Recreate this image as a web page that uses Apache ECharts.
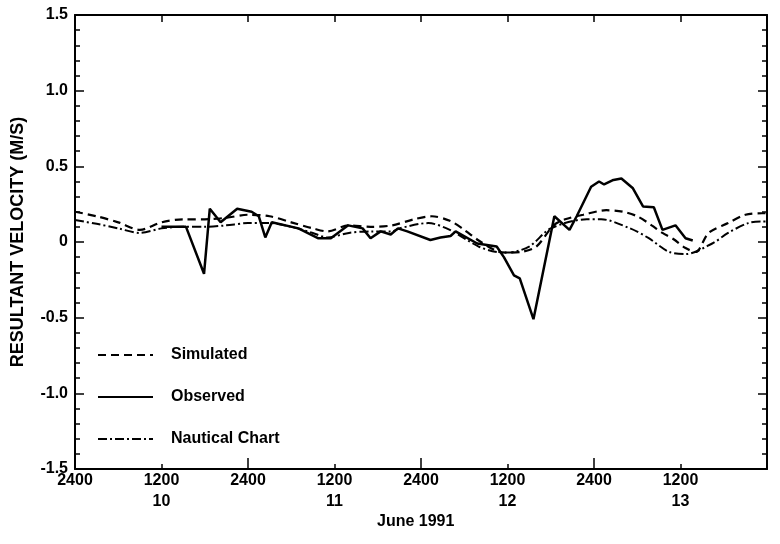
<!DOCTYPE html>
<html><head><meta charset="utf-8">
<script src="https://cdn.jsdelivr.net/npm/echarts@6/dist/echarts.min.js"></script>
<style>html,body{margin:0;padding:0;background:#fff}#c{width:780px;height:544px}</style>
</head><body><div id="c"></div>
<script>
// hours from June 10, 00:00 (2400 of June 9)
const simulatedHours = [0,3,6,9,12,15,18,21,24,27,30,33,35,38,41,44,47,49.5,52,54,56,58.5,60,62,64,66.4,68,70.5,73.7,76,78,80,81.5,83,84.7,86.1,87.9,90.6,93,95.3,96];
const simulatedValues = [0.20,0.17,0.13,0.08,0.13,0.15,0.15,0.16,0.18,0.17,0.13,0.09,0.07,0.11,0.10,0.11,0.15,0.17,0.14,0.08,0.01,-0.06,-0.07,-0.065,-0.03,0.11,0.15,0.18,0.21,0.20,0.17,0.11,0.06,0.02,-0.04,-0.066,0.06,0.125,0.18,0.19,0.19];

const observedHours = [12,15.4,17.9,18.7,20.2,22.5,24.5,25.5,26.4,27.3,31,33.7,35.5,37.9,39.9,41,42.4,43.8,44.8,46.1,49.3,50.7,52.1,52.8,55.8,58.5,59.5,60.9,61.7,63.6,66.5,68.6,69.6,71.6,72.7,73.4,74.7,75.8,77.4,78.8,80.3,81.5,83.3,84.7,85.7];
const observedValues = [0.10,0.10,-0.21,0.22,0.13,0.22,0.20,0.17,0.03,0.13,0.09,0.025,0.025,0.11,0.09,0.025,0.07,0.05,0.09,0.07,0.013,0.03,0.04,0.07,-0.01,-0.03,-0.10,-0.22,-0.24,-0.51,0.17,0.08,0.17,0.365,0.40,0.38,0.41,0.42,0.355,0.235,0.23,0.08,0.11,0.025,0.01];

const nauticalHours = [0,3,6,9,12,15,18,21,24,27,30,33,35,38,41,44,45,49,52,56,58.5,60,63,66,71,73,77,79.6,82.4,84.7,88.4,90.6,93.4,95.3,96];
const nauticalValues = [0.145,0.12,0.09,0.06,0.09,0.10,0.10,0.11,0.125,0.125,0.10,0.06,0.03,0.06,0.07,0.07,0.09,0.125,0.08,-0.03,-0.066,-0.07,-0.03,0.09,0.15,0.15,0.09,0.025,-0.065,-0.08,-0.01,0.06,0.125,0.135,0.135];

const dayLabels = {12:'10',36:'11',60:'12',84:'13'};
const yTickLabels = {'1.5':'1.5','1':'1.0','0.5':'0.5','0':'0','-0.5':'-0.5','-1':'-1.0','-1.5':'-1.5'};

const zip = (a,b)=>a.map((v,i)=>[v,b[i]]);
const font = 'Liberation Sans, Arial, sans-serif';
const chart = echarts.init(document.getElementById('c'));
const grid = {left:75, right:13, top:15, bottom:75};
const fs = 16;
chart.setOption({
  animation:false,
  grid: grid,
  legend:{
    orient:'vertical', left:92, top:342, itemWidth:55, itemHeight:14, itemGap:26,
    itemStyle:{opacity:0},
    textStyle:{fontFamily:font, fontSize:fs, fontWeight:'bold', color:'#000', padding:[0,0,0,13]},
    data:['Simulated','Observed','Nautical Chart']
  },
  xAxis:[
    {type:'value', min:0, max:96, interval:12, position:'bottom',
     axisLine:{onZero:false,lineStyle:{color:'#000',width:2}},
     axisTick:{inside:true,length:5,lineStyle:{color:'#000',width:1.5}},
     splitLine:{show:false},
     axisLabel:{fontFamily:font,fontSize:fs,fontWeight:'bold',color:'#000',margin:1,lineHeight:21,
       formatter:function(v){ if(v>=96) return ''; if(v%24===0) return '2400'; return '1200\n'+(dayLabels[v]||''); }}
    },
    {type:'value', min:0, max:96, interval:24, position:'bottom',
     axisLine:{show:false,onZero:false}, axisLabel:{show:false}, splitLine:{show:false},
     axisTick:{inside:true,length:11,lineStyle:{color:'#000',width:1.5}}
    },
    {type:'value', min:0, max:96, interval:12, position:'top',
     axisLine:{onZero:false,lineStyle:{color:'#000',width:2}}, axisLabel:{show:false}, splitLine:{show:false},
     axisTick:{inside:true,length:7,lineStyle:{color:'#000',width:1.5}}
    }
  ],
  yAxis:[
    {type:'value', min:-1.5, max:1.5, interval:0.5, position:'left',
     name:'RESULTANT VELOCITY (M/S)', nameLocation:'middle', nameRotate:90, nameGap:48,
     nameTextStyle:{fontFamily:font,fontSize:18,fontWeight:'bold',color:'#000'},
     axisLine:{onZero:false,lineStyle:{color:'#000',width:2}},
     axisTick:{inside:true,length:9,lineStyle:{color:'#000',width:1.5}},
     minorTick:{show:true,splitNumber:5,length:5,lineStyle:{color:'#000',width:1.5}},
     splitLine:{show:false},
     axisLabel:{fontFamily:font,fontSize:fs,fontWeight:'bold',color:'#000',margin:7,
       formatter:function(v){ return yTickLabels[String(Math.round(v*10)/10)] || ''; }}
    },
    {type:'value', min:-1.5, max:1.5, interval:0.5, position:'right',
     axisLine:{onZero:false,lineStyle:{color:'#000',width:2}},
     axisTick:{inside:true,length:9,lineStyle:{color:'#000',width:1.5}},
     minorTick:{show:true,splitNumber:5,length:5,lineStyle:{color:'#000',width:1.5}},
     splitLine:{show:false}, axisLabel:{show:false}
    }
  ],
  series:[
    {name:'Simulated', type:'line', smooth:0.3, symbol:'none', xAxisIndex:0, yAxisIndex:0,
     lineStyle:{color:'#000',width:2.2,type:[8,5]}, itemStyle:{color:'#000'},
     data:zip(simulatedHours,simulatedValues)},
    {name:'Observed', type:'line', symbol:'none', xAxisIndex:0, yAxisIndex:0,
     lineStyle:{color:'#000',width:2.5,type:'solid'}, itemStyle:{color:'#000'},
     data:zip(observedHours,observedValues)},
    {name:'Nautical Chart', type:'line', smooth:0.3, symbol:'none', xAxisIndex:0, yAxisIndex:0,
     lineStyle:{color:'#000',width:2,type:[9,3,2,3]}, itemStyle:{color:'#000'},
     data:zip(nauticalHours,nauticalValues)}
  ],
  graphic:[
    {type:'text', left:377, top:514, style:{text:'June 1991', font:'bold '+fs+'px '+font, fill:'#000'}}
  ]
});
</script>
</body></html>
